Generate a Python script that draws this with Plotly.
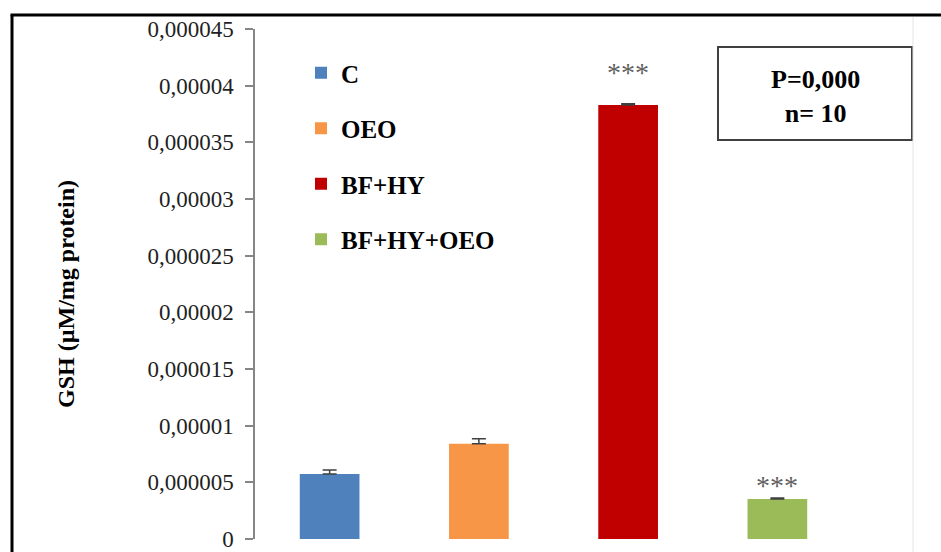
import plotly.graph_objects as go

# GSH levels per group
groups = ["C", "OEO", "BF+HY", "BF+HY+OEO"]
gsh_mean = [0.00000574, 0.0000084, 0.0000383, 0.00000353]
gsh_err = [0.00000035, 0.00000045, 0.0000001, 0.00000008]
bar_colors = ["#4F81BD", "#F79646", "#C00000", "#9BBB59"]

# significance marks drawn above bars
sig_groups = ["BF+HY", "BF+HY+OEO"]
sig_text = ["***", "***"]
sig_y = [0.0000412, 0.00000468]

# y-axis ticks with comma decimal separator
y_tickvals = [0, 0.000005, 0.00001, 0.000015, 0.00002, 0.000025,
              0.00003, 0.000035, 0.00004, 0.000045]
y_ticktext = ["0", "0,000005", "0,00001", "0,000015", "0,00002", "0,000025",
              "0,00003", "0,000035", "0,00004", "0,000045"]

W, H = 941, 552
SERIF = "Liberation Serif, Times New Roman, serif"


def px(x):
    return x / W


def py(y):
    return 1 - y / H


fig = go.Figure()
for g, m, e, c in zip(groups, gsh_mean, gsh_err, bar_colors):
    fig.add_trace(go.Bar(
        x=[g], y=[m], name="<b>" + g + "</b>", legendgroup=g,
        marker=dict(color=c, line=dict(width=0)),
        width=0.4,
        error_y=dict(type="data", array=[e], arrayminus=[0], visible=True,
                     color="#404040", thickness=1.5, width=7),
    ))

for g, t, yv in zip(sig_groups, sig_text, sig_y):
    fig.add_annotation(x=g, y=yv, xref="x", yref="y", text=t, showarrow=False,
                       font=dict(family=SERIF, size=28, color="#5f5f5f"),
                       xanchor="center", yanchor="middle")

# y-axis title
fig.add_annotation(x=px(66), y=py(294), xref="paper", yref="paper",
                   text="<b>GSH (µM/mg protein)</b>", textangle=-90, showarrow=False,
                   xanchor="center", yanchor="middle",
                   font=dict(family=SERIF, size=24, color="#000000"))

# statistics box
fig.add_shape(type="rect", xref="paper", yref="paper",
              x0=px(718), x1=px(912), y0=py(140), y1=py(47),
              line=dict(color="#404040", width=2), fillcolor="white")
fig.add_annotation(x=px(815), y=py(96), xref="paper", yref="paper",
                   text="<b>P=0,000</b><br><b>n= 10</b>", showarrow=False,
                   xanchor="center", yanchor="middle",
                   font=dict(family=SERIF, size=26, color="#000000"))

# outer frame and chart-area edge
fig.add_shape(type="line", xref="paper", yref="paper",
              x0=px(12), x1=px(12), y0=py(15), y1=-0.05,
              line=dict(color="#000000", width=3))
fig.add_shape(type="line", xref="paper", yref="paper",
              x0=px(10.5), x1=1.05, y0=py(15), y1=py(15),
              line=dict(color="#000000", width=3))
fig.add_shape(type="line", xref="paper", yref="paper",
              x0=px(913), x1=px(913), y0=py(17), y1=-0.05,
              line=dict(color="#E4E4E4", width=1))

fig.update_layout(
    width=W, height=H,
    margin=dict(l=0, r=0, t=0, b=0, autoexpand=False),
    paper_bgcolor="white", plot_bgcolor="white",
    barmode="overlay",
    showlegend=True,
    legend=dict(x=px(301), y=py(50), xanchor="left", yanchor="top",
                bgcolor="rgba(0,0,0,0)", traceorder="grouped",
                tracegroupgap=20, itemwidth=30,
                font=dict(family=SERIF, size=25, color="#000000"),
                itemclick=False),
    xaxis=dict(domain=[px(255), px(852)], range=[-0.5, 3.5],
               categoryorder="array", categoryarray=groups,
               showticklabels=False, showline=False, ticks="",
               showgrid=False, zeroline=False, automargin=False),
    yaxis=dict(domain=[1 - 539 / H, 1 - 29 / H], range=[0, 0.000045],
               tickvals=y_tickvals, ticktext=y_ticktext,
               ticks="outside", ticklen=8, tickcolor="#868686", tickwidth=1.5,
               showline=True, linecolor="#868686", linewidth=1.5,
               showgrid=False, zeroline=False, automargin=False,
               ticklabeloverflow="allow", ticklabelstandoff=7,
               tickfont=dict(family=SERIF, size=23, color="#1f1f1f")),
)

fig.write_html("out.html")
